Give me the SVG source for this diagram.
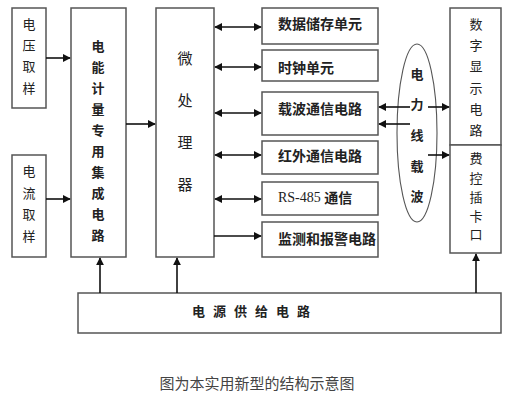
<svg xmlns="http://www.w3.org/2000/svg" width="512" height="407" viewBox="0 0 512 407">
<defs>
<marker id="ah" viewBox="0 0 10 10" refX="9" refY="5" markerWidth="8" markerHeight="8" markerUnits="userSpaceOnUse" orient="auto-start-reverse">
<path d="M0,0 L10,5 L0,10 z" fill="#111"/>
</marker>
</defs>
<style>
.box{fill:#fff;stroke:#555;stroke-width:1.5}
.t{font-family:"Noto Sans CJK SC","Liberation Serif",serif;font-size:13px;fill:#222;text-anchor:middle;dominant-baseline:central}
.b{font-weight:bold}
.l{text-anchor:start}
.c{stroke:#111;stroke-width:1.6;fill:none}
</style>
<rect width="512" height="407" fill="#fff"/>
<g id="voltage">
<rect class="box" x="12" y="8" width="34" height="100"/>
<text class="t" x="29" y="23">电</text><text class="t" x="29" y="44">压</text><text class="t" x="29" y="65">取</text><text class="t" x="29" y="87">样</text>
</g>
<g id="current">
<rect class="box" x="12" y="155" width="34" height="102"/>
<text class="t" x="29" y="170">电</text><text class="t" x="29" y="192">流</text><text class="t" x="29" y="213">取</text><text class="t" x="29" y="235">样</text>
</g>
<g id="meteric">
<rect class="box" x="71" y="8" width="55" height="249"/>
<g class="t b">
<text x="98" y="45">电</text><text x="98" y="66">能</text><text x="98" y="87">计</text><text x="98" y="108">量</text><text x="98" y="129">专</text><text x="98" y="150">用</text><text x="98" y="171">集</text><text x="98" y="192">成</text><text x="98" y="213">电</text><text x="98" y="234">路</text>
</g>
</g>
<g id="mcu">
<rect class="box" x="156" y="8" width="58" height="249"/>
<g class="t" style="font-size:15px">
<text x="185" y="57">微</text><text x="185" y="99">处</text><text x="185" y="141">理</text><text x="185" y="183">器</text>
</g>
</g>
<g id="storage"><rect class="box" x="262" y="8" width="116" height="36"/><text class="t l b" x="278" y="23" style="font-size:14px">数据储存单元</text></g>
<g id="clock"><rect class="box" x="262" y="50" width="116" height="31"/><text class="t l b" x="278" y="67" style="font-size:14px">时钟单元</text></g>
<g id="carrier"><rect class="box" x="262" y="92" width="116" height="43"/><text class="t l b" x="278" y="108" style="font-size:14px">载波通信电路</text></g>
<g id="infrared"><rect class="box" x="262" y="141" width="116" height="33"/><text class="t l b" x="278" y="155" style="font-size:14px">红外通信电路</text></g>
<g id="rs485"><rect class="box" x="262" y="182" width="116" height="33"/><text class="t l b" x="278" y="197" style="font-size:14px"><tspan style="font-family:'Liberation Serif',serif;font-weight:normal">RS-485 </tspan>通信</text></g>
<g id="monitor"><rect class="box" x="262" y="222" width="116" height="35"/><text class="t l b" x="278" y="238" style="font-size:14px">监测和报警电路</text></g>
<g id="plc">
<ellipse cx="417" cy="133" rx="20" ry="89" fill="#fff" stroke="#555" stroke-width="1.1"/>
<text class="t b" x="417" y="73">电</text><text class="t b" x="417" y="103">力</text><text class="t b" x="417" y="134">线</text><text class="t b" x="417" y="165">载</text><text class="t b" x="417" y="195">波</text>
</g>
<g id="display">
<rect class="box" x="450" y="8" width="51" height="137"/>
<text class="t" x="476" y="23">数</text><text class="t" x="476" y="44">字</text><text class="t" x="476" y="65">显</text><text class="t" x="476" y="87">示</text><text class="t" x="476" y="108">电</text><text class="t" x="476" y="129">路</text>
</g>
<g id="card">
<rect class="box" x="450" y="145" width="51" height="108"/>
<text class="t" x="476" y="157">费</text><text class="t" x="476" y="177">控</text><text class="t" x="476" y="196">插</text><text class="t" x="476" y="215">卡</text><text class="t" x="476" y="233">口</text>
</g>
<g id="power">
<rect class="box" x="78" y="293" width="423" height="40"/>
<text class="t b" x="255" y="310" style="letter-spacing:8px">电源供给电路</text>
</g>
<g id="caption">
<text x="257" y="382" style="font-family:'Noto Sans CJK SC',sans-serif;font-size:15px;fill:#444;text-anchor:middle;dominant-baseline:central">图为本实用新型的结构示意图</text>
</g>
<g id="connectors">
<line class="c" x1="46" y1="58" x2="70" y2="58" marker-end="url(#ah)"/>
<line class="c" x1="46" y1="199" x2="70" y2="199" marker-end="url(#ah)"/>
<line class="c" x1="126" y1="124" x2="155" y2="124" marker-end="url(#ah)"/>
<line class="c" x1="215" y1="27" x2="261" y2="27" marker-start="url(#ah)" marker-end="url(#ah)"/>
<line class="c" x1="215" y1="67" x2="261" y2="67" marker-start="url(#ah)" marker-end="url(#ah)"/>
<line class="c" x1="215" y1="113" x2="261" y2="113" marker-start="url(#ah)" marker-end="url(#ah)"/>
<line class="c" x1="215" y1="155" x2="261" y2="155" marker-start="url(#ah)" marker-end="url(#ah)"/>
<line class="c" x1="215" y1="199" x2="261" y2="199" marker-start="url(#ah)" marker-end="url(#ah)"/>
<line class="c" x1="214" y1="236" x2="261" y2="236" marker-end="url(#ah)"/>
<line class="c" x1="410" y1="107" x2="379" y2="107" marker-end="url(#ah)"/>
<line class="c" x1="410" y1="124" x2="379" y2="124" marker-end="url(#ah)"/>
<line class="c" x1="428" y1="107" x2="449" y2="107" marker-end="url(#ah)"/>
<line class="c" x1="428" y1="155" x2="449" y2="155" marker-end="url(#ah)"/>
<line class="c" x1="100" y1="293" x2="100" y2="258" marker-end="url(#ah)"/>
<line class="c" x1="177" y1="293" x2="177" y2="258" marker-end="url(#ah)"/>
<line class="c" x1="476" y1="293" x2="476" y2="254" marker-end="url(#ah)"/>
</g>
</svg>
